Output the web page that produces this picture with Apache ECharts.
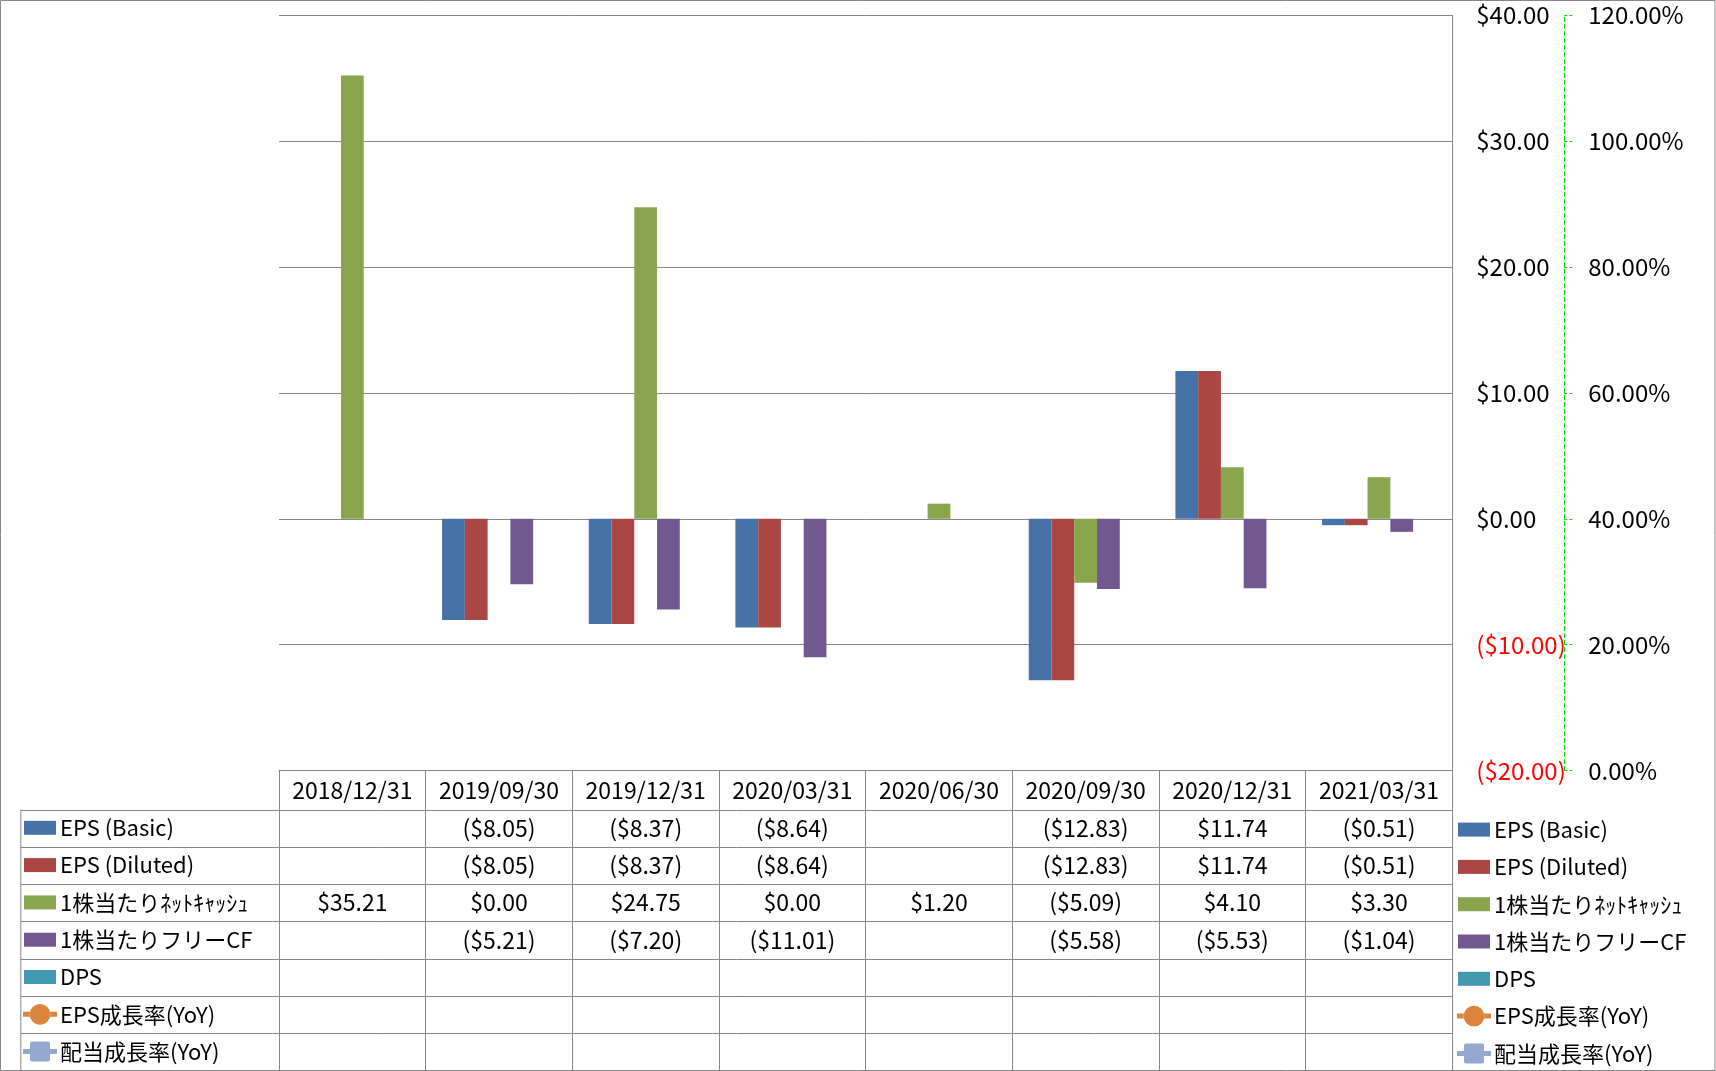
<!DOCTYPE html>
<html><head><meta charset="utf-8">
<script src="https://cdn.jsdelivr.net/npm/echarts@6/dist/echarts.min.js"></script>
<style>html,body{margin:0;padding:0;background:#fff}#c{width:1716px;height:1071px}</style>
</head><body><div id="c"></div>
<script>
// ---- data ----
const categories = ['2018/12/31','2019/09/30','2019/12/31','2020/03/31','2020/06/30','2020/09/30','2020/12/31','2021/03/31'];
const epsBasic   = [null, -8.05, -8.37, -8.64, null, -12.83, 11.74, -0.51];
const epsDiluted = [null, -8.05, -8.37, -8.64, null, -12.83, 11.74, -0.51];
const netCashPS  = [35.21, 0.00, 24.75, 0.00, 1.20, -5.09, 4.10, 3.30];
const freeCFPS   = [null, -5.21, -7.20, -11.01, null, -5.58, -5.53, -1.04];
const dps        = [null, null, null, null, null, null, null, null];
const epsGrowth  = [null, null, null, null, null, null, null, null];
const divGrowth  = [null, null, null, null, null, null, null, null];
const seriesNames = ['EPS (Basic)','EPS (Diluted)','1株当たりﾈｯﾄｷｬｯｼｭ','1株当たりフリーCF','DPS','EPS成長率(YoY)','配当成長率(YoY)'];
const leftAxis  = {min: -20, max: 40, interval: 10};
const rightAxis = {min: 0, max: 120, interval: 20};

// ---- style ----
const FONT = "'Noto Sans CJK JP','Noto Sans',sans-serif";
const FS_AXIS = 24, FS_TABLE = 23, FS_LEG = 22;
const GRAY = '#878787';
const colors = ['#4572A7','#AA4643','#89A54E','#71588F','#4198AF','#DB843D','#93A9CF'];
const G = {left: 279, top: 15.3, right: 1716 - 1452.3, bottom: 1071 - 770.5};
const rowH = 37.3, headerBottom = 809.5, tableLeft = 20.8, tableRight = 1452.3;

function money(v){
  if (v === null || v === undefined) return '';
  return v < 0 ? '($' + (-v).toFixed(2) + ')' : '$' + v.toFixed(2);
}
function pct(v){ return (v === null || v === undefined) ? '' : (v*100).toFixed(2) + '%'; }

// legend icons (34 x 26 box)
const barIcon = 'path://M0,0M34,26M1,6h32v14h-32z';
const circleIcon = 'path://M0,0M34,26M0,10.5h7v5h-7zM27,10.5h7v5h-7zM6.6,13a10.4,10.4 0 1,0 20.8,0a10.4,10.4 0 1,0 -20.8,0z';
const squareIcon = 'path://M0,0M34,26M0,10.5h8v5h-8zM26,10.5h8v5h-8zM9,3h16a2,2 0 0,1 2,2v16a2,2 0 0,1 -2,2h-16a2,2 0 0,1 -2,-2v-16a2,2 0 0,1 2,-2z';
const legendData = seriesNames.map((n, i) => ({name: n, icon: i < 5 ? barIcon : (i === 5 ? circleIcon : squareIcon)}));

const chart = echarts.init(document.getElementById('c'), null, {renderer: 'canvas'});
const values = [epsBasic, epsDiluted, netCashPS, freeCFPS, dps];

const series = values.map((d, i) => ({
  name: seriesNames[i], type: 'bar', data: d, yAxisIndex: 0,
  barGap: '0%', barCategoryGap: '22.4%',
  itemStyle: {color: colors[i]}
}));
series.push({
  name: seriesNames[5], type: 'line', data: epsGrowth, yAxisIndex: 1,
  symbol: 'circle', symbolSize: 20, lineStyle: {width: 5, color: colors[5]}, itemStyle: {color: colors[5]}
});
series.push({
  name: seriesNames[6], type: 'line', data: divGrowth, yAxisIndex: 1,
  symbol: 'roundRect', symbolSize: 20, lineStyle: {width: 5, color: colors[6]}, itemStyle: {color: colors[6]}
});

const legendCommon = {
  orient: 'vertical', itemWidth: 34, itemHeight: 26, itemGap: rowH - 26, padding: 0,
  textStyle: {fontFamily: FONT, fontSize: FS_LEG, color: '#000', lineHeight: 24, padding: [0, 0, 0, -2]},
  itemStyle: {borderWidth: 0},
  lineStyle: {width: 0},
  data: legendData, selectedMode: false
};

chart.setOption({
  animation: false,
  backgroundColor: '#fff',
  textStyle: {fontFamily: FONT},
  grid: G,
  legend: [
    Object.assign({left: 23, top: 827.8 - 13}, legendCommon),
    Object.assign({left: 1457, top: 829.6 - 13}, legendCommon)
  ],
  xAxis: {
    type: 'category', data: categories, position: 'bottom',
    axisLine: {show: true, onZero: false, lineStyle: {color: GRAY}},
    axisTick: {show: true, interval: 0, length: 300, lineStyle: {color: GRAY}},
    axisLabel: {interval: 0, fontFamily: FONT, fontSize: FS_TABLE, color: '#000', margin: 8}
  },
  yAxis: [
    {
      type: 'value', position: 'right', min: leftAxis.min, max: leftAxis.max, interval: leftAxis.interval,
      axisLine: {show: true, lineStyle: {color: GRAY}},
      axisTick: {show: false},
      splitLine: {show: true, lineStyle: {color: GRAY, width: 1}},
      axisLabel: {
        fontFamily: FONT, fontSize: FS_AXIS, margin: 24, align: 'left',
        formatter: v => money(v),
        color: v => (Number(v) < 0 ? '#FF0000' : '#000')
      }
    },
    {
      type: 'value', position: 'right', offset: 112, min: rightAxis.min, max: rightAxis.max, interval: rightAxis.interval,
      axisLine: {show: true, lineStyle: {color: '#00E000', type: [4, 3], width: 1}},
      axisTick: {show: true, inside: false, length: 8, lineStyle: {color: '#00E000', type: [3, 2]}},
      splitLine: {show: false},
      axisLabel: {fontFamily: FONT, fontSize: FS_AXIS, color: '#000', margin: 24, align: 'left',
        formatter: v => Number(v).toFixed(2) + '%'}
    }
  ],
  series: series
});

// ---- data table body ----
const tableRows = [epsBasic, epsDiluted, netCashPS, freeCFPS, dps, epsGrowth, divGrowth];
const graphics = [];
graphics.push({type: 'rect', shape: {x: 0.5, y: 0.5, width: 1714.5, height: 1070}, style: {fill: null, stroke: GRAY, lineWidth: 1}, silent: true});
for (let r = 0; r <= tableRows.length; r++) {
  const y = Math.round(headerBottom + r * rowH) + 0.5;
  graphics.push({type: 'line', shape: {x1: tableLeft, y1: y, x2: tableRight, y2: y}, style: {stroke: GRAY, lineWidth: 1}, silent: true});
}
graphics.push({type: 'line', shape: {x1: tableLeft, y1: headerBottom, x2: tableLeft, y2: 1071}, style: {stroke: GRAY, lineWidth: 1}, silent: true});
tableRows.forEach((row, r) => {
  const yc = headerBottom + (r + 0.5) * rowH;
  row.forEach((v, i) => {
    const xc = chart.convertToPixel({xAxisIndex: 0}, i);
    const txt = r >= 5 ? pct(v) : money(v);
    if (!txt) return;
    graphics.push({type: 'text', x: xc, y: yc, silent: true,
      style: {text: txt, fontFamily: FONT, fontSize: FS_TABLE, fill: '#000', align: 'center', verticalAlign: 'middle'}});
  });
});
chart.setOption({graphic: graphics});
</script>
</body></html>
